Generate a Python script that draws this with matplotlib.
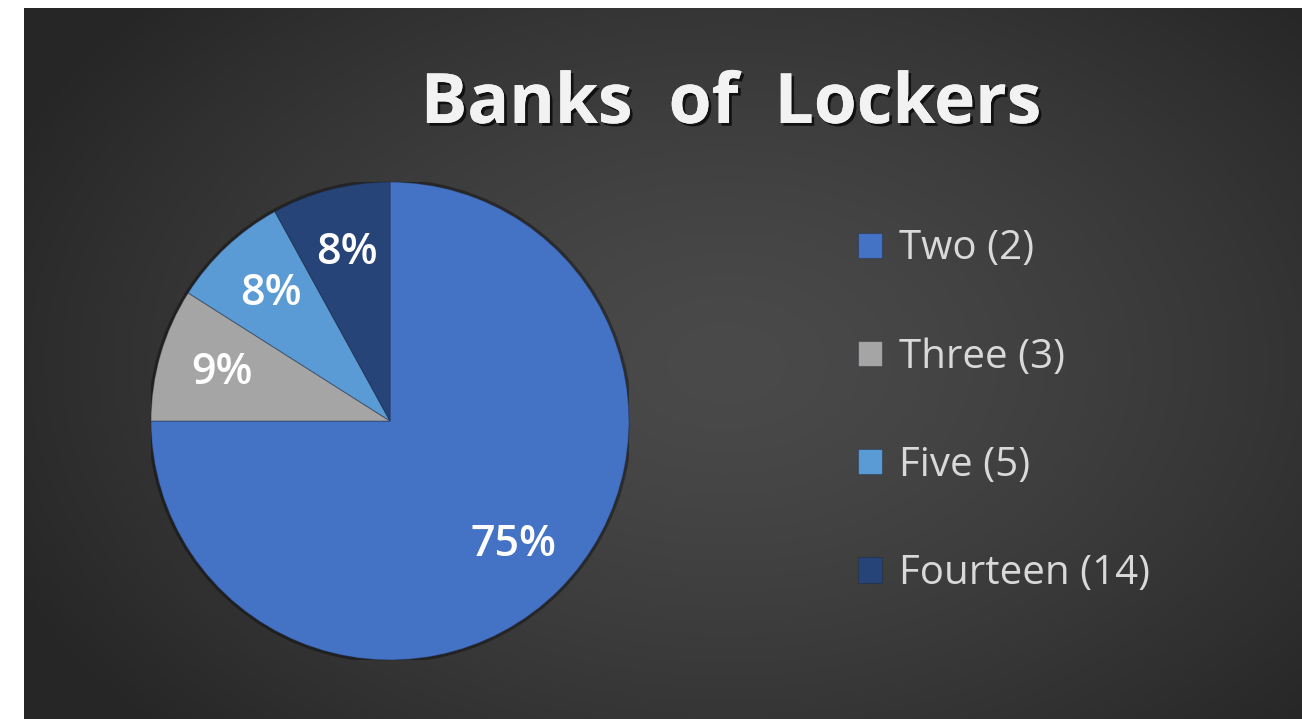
#!/usr/bin/env python3
from matplotlib import pyplot as plt
from matplotlib import patheffects
import numpy as np

# Data
categories = ["Two (2)", "Three (3)", "Five (5)", "Fourteen (14)"]
shares = [75, 9, 8, 8]
colors = ["#4472C4", "#A5A5A5", "#5B9BD5", "#264478"]
title = "Banks  of  Lockers"

W, H = 1302, 719


def draw_background(fig):
    bg = fig.add_axes([24 / W, 0, 1 - 24 / W, (H - 8) / H])
    bg.set_axis_off()
    yy, xx = np.mgrid[0:1:300j, 0:1:540j]
    # radial gradient, lighter towards the middle
    d = np.sqrt(((xx - 0.55) / 0.62) ** 2 + ((yy - 0.50) / 0.75) ** 2)
    d = np.clip(d, 0, 1)
    shade = 0.29 - 0.14 * d ** 1.4
    img = np.dstack([shade, shade, shade])
    bg.imshow(img, aspect='auto', extent=[0, 1, 0, 1], origin='upper')
    return bg


def draw_pie(fig):
    cx, cy, r = 390, 421, 239
    ax = fig.add_axes([(cx - r) / W, (H - cy - r) / H, 2 * r / W, 2 * r / H])
    ax.set_axis_off()
    rim = plt.Circle((0, 0), 1.012, color='black', alpha=0.35, lw=0)
    ax.add_patch(rim)
    wedges, texts, autotexts = ax.pie(
        shares, colors=colors, startangle=90, counterclock=False, radius=1,
        autopct='%.0f%%', pctdistance=0.73,
        wedgeprops=dict(edgecolor=(0.1, 0.12, 0.2, 0.35), linewidth=0.8),
        textprops=dict(color='white', fontsize=31, family='Open Sans',
                       fontweight='semibold'))
    ax.set_xlim(-1, 1)
    ax.set_ylim(-1, 1)
    ax.set_aspect('equal')
    return wedges


fig = plt.figure(figsize=(W / 100, H / 100), dpi=100, facecolor='white')
draw_background(fig)
wedges = draw_pie(fig)

fig.text(731 / W, (H - 123) / H, title, ha='center', va='baseline',
         fontsize=50, fontweight='bold', family='Open Sans', color='#F2F2F2',
         path_effects=[patheffects.withSimplePatchShadow(
             offset=(2, -2), shadow_rgbFace='black', alpha=0.7),
             patheffects.Normal()])

leg = fig.legend(wedges, categories, loc='upper left',
                 bbox_to_anchor=(858 / W, (H - 229) / H),
                 frameon=False,
                 prop=dict(family='Open Sans', size=29),
                 handlelength=0.6, handleheight=0.6, handletextpad=0.42,
                 labelspacing=1.68, borderpad=0, borderaxespad=0)
for t in leg.get_texts():
    t.set_color('#D9D9D9')

plt.savefig("out.png", dpi=100, facecolor='white')
